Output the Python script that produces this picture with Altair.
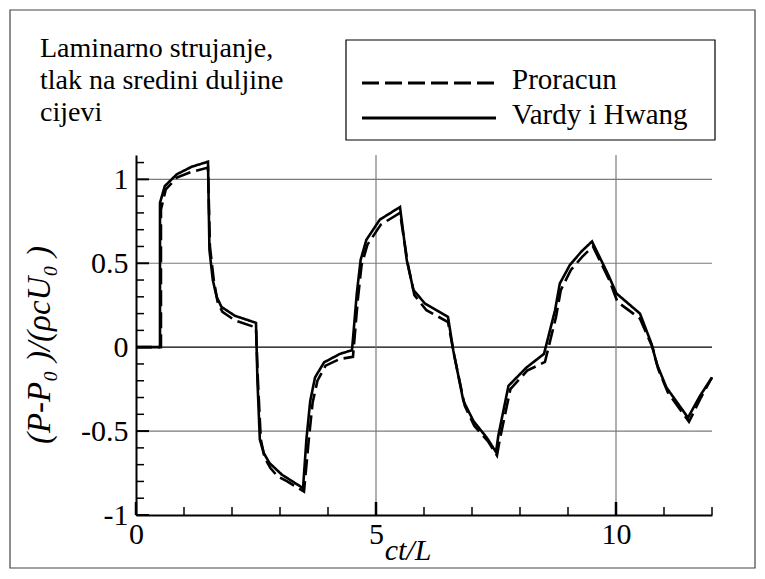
import altair as alt
import pandas as pd

# ---------------- data ----------------
series_names = ["Proracun", "Vardy i Hwang"]

x_proracun = [0, 0.52, 0.52, 0.62, 0.85, 1.16, 1.5, 1.54, 1.62, 1.7, 1.8, 2.06, 2.5,
              2.54, 2.6, 2.68, 2.8, 2.95, 3.15, 3.5, 3.6, 3.68, 3.78, 3.95, 4.25, 4.52,
              4.62, 4.7, 4.82, 5.1, 5.5, 5.66, 5.8, 6.05, 6.5, 6.63, 6.85, 7.05, 7.33,
              7.52, 7.58, 7.8, 8.15, 8.52, 8.75, 8.85, 9.06, 9.3, 9.52, 9.86, 10.03,
              10.5, 10.76, 10.88, 11.08, 11.52, 11.77, 12.0]
y_proracun = [0, 0, 0.82, 0.94, 1.01, 1.045, 1.07, 0.6, 0.4, 0.27, 0.21, 0.16, 0.117,
              -0.2, -0.55, -0.66, -0.72, -0.77, -0.8, -0.86, -0.55, -0.33, -0.2, -0.11,
              -0.07, -0.058, 0.28, 0.49, 0.61, 0.73, 0.8, 0.5, 0.31, 0.22, 0.15, -0.05,
              -0.35, -0.47, -0.56, -0.645, -0.55, -0.25, -0.14, -0.088, 0.18, 0.34,
              0.46, 0.54, 0.6, 0.4, 0.27, 0.17, 0.0, -0.13, -0.27, -0.445, -0.3, -0.18]

x_vardy = [0, 0.5, 0.5, 0.6, 0.85, 1.16, 1.5, 1.53, 1.6, 1.68, 1.78, 2.06, 2.5, 2.53,
           2.58, 2.66, 2.78, 3.04, 3.48, 3.55, 3.63, 3.73, 3.92, 4.25, 4.5, 4.6, 4.68,
           4.8, 5.08, 5.5, 5.64, 5.78, 6.02, 6.5, 6.61, 6.82, 7.03, 7.31, 7.5, 7.55,
           7.76, 8.14, 8.5, 8.73, 8.83, 9.04, 9.28, 9.5, 9.84, 10.01, 10.5, 10.74,
           10.85, 11.05, 11.5, 11.75, 12.0]
y_vardy = [0, 0, 0.86, 0.96, 1.03, 1.075, 1.105, 0.58, 0.4, 0.3, 0.24, 0.187, 0.145,
           -0.2, -0.55, -0.63, -0.69, -0.76, -0.84, -0.55, -0.32, -0.18, -0.09, -0.04,
           -0.018, 0.32, 0.52, 0.64, 0.76, 0.835, 0.52, 0.34, 0.26, 0.18, -0.02, -0.32,
           -0.44, -0.54, -0.625, -0.525, -0.23, -0.12, -0.04, 0.22, 0.38, 0.49, 0.57,
           0.63, 0.43, 0.32, 0.2, 0.02, -0.1, -0.24, -0.42, -0.29, -0.18]

title_lines = ["Laminarno strujanje,", "tlak na sredini duljine", "cijevi"]
x_title = "ct/L"
y_title = "(P-P\u2080 )/(\u03c1cU\u2080 )"

x_major = [0, 5, 10]
x_minor = [1, 2, 3, 4, 6, 7, 8, 9, 11, 12]
y_major = [-1, -0.5, 0, 0.5, 1]
y_minor = [-0.9, -0.8, -0.7, -0.6, -0.4, -0.3, -0.2, -0.1, 0.1, 0.2, 0.3, 0.4,
           0.6, 0.7, 0.8, 0.9, 1.1]
x_grid = [5, 10]
y_grid_gray = [-0.5, 0.5, 1]
y_grid_zero = [0]

# ---------------- layout ----------------
W, H = 576, 360
FONT = "Liberation Serif"
FS = 28
FS_TICK = 30
FS_LEG = 29
FS_YT = 33

rows = []
for name, xs_, ys_ in [(series_names[0], x_proracun, y_proracun),
                       (series_names[1], x_vardy, y_vardy)]:
    for i, (a, b) in enumerate(zip(xs_, ys_)):
        rows.append({"series": name, "x": a, "y": b, "i": i})
df = pd.DataFrame(rows)

xscale = alt.Scale(domain=[0, 12], nice=False, zero=False)
yscale = alt.Scale(domain=[-1, 1.145], nice=False, zero=False)

x_axis = alt.Axis(values=x_major, labelExpr="'' + datum.value", grid=False, ticks=False,
                  domainColor="black", domainWidth=2, labelFont=FONT, labelFontSize=FS_TICK,
                  labelColor="black", labelPadding=4, labelFlush=False,
                  labelOverlap=False, title=None)
y_axis = alt.Axis(values=y_major, labelExpr="'' + datum.value", grid=False, ticks=False,
                  domainColor="black", domainWidth=2, labelFont=FONT, labelFontSize=FS_TICK,
                  labelColor="black", labelPadding=8, labelFlush=False,
                  labelOverlap=False, title=None)


def X(f):
    return alt.X(f, type="quantitative", scale=xscale, axis=x_axis)


def Y(f):
    return alt.Y(f, type="quantitative", scale=yscale, axis=y_axis)


layers = []

# grid lines
layers.append(alt.Chart(pd.DataFrame({"y": y_grid_gray})).mark_rule(
    color="#7a7a7a", strokeWidth=1.2).encode(y=Y("y")))
layers.append(alt.Chart(pd.DataFrame({"y": y_grid_zero})).mark_rule(
    color="black", strokeWidth=1.2).encode(y=Y("y")))
layers.append(alt.Chart(pd.DataFrame({"x": x_grid})).mark_rule(
    color="#7a7a7a", strokeWidth=1.2).encode(x=X("x")))

# inward ticks
layers.append(alt.Chart(pd.DataFrame({"y": y_major})).mark_rule(
    color="black", strokeWidth=2).encode(y=Y("y"), x=alt.value(0), x2=alt.value(13)))
layers.append(alt.Chart(pd.DataFrame({"y": y_minor})).mark_rule(
    color="black", strokeWidth=1.5).encode(y=Y("y"), x=alt.value(0), x2=alt.value(8)))
layers.append(alt.Chart(pd.DataFrame({"x": x_major})).mark_rule(
    color="black", strokeWidth=2.5).encode(x=X("x"), y=alt.value(H), y2=alt.value(H - 13)))
layers.append(alt.Chart(pd.DataFrame({"x": x_minor})).mark_rule(
    color="black", strokeWidth=1.5).encode(x=X("x"), y=alt.value(H), y2=alt.value(H - 8)))

# curves
layers.append(alt.Chart(df).mark_line(color="black", strokeWidth=2.6).encode(
    x=X("x"), y=Y("y"),
    strokeDash=alt.StrokeDash("series:N", scale=alt.Scale(domain=series_names,
                                                          range=[[16, 6], [1, 0]]),
                              legend=None),
    order="i:Q"))

# outer frame
layers.append(alt.Chart(pd.DataFrame({"a": [0]})).mark_rect(
    filled=False, stroke="#444444", strokeWidth=1.2).encode(
    x=alt.value(-126), x2=alt.value(619), y=alt.value(-145), y2=alt.value(413)))

# title text block
for k, line in enumerate(title_lines):
    layers.append(alt.Chart(pd.DataFrame({"t": [line]})).mark_text(
        font=FONT, fontSize=FS, align="left", baseline="alphabetic", color="black").encode(
        text="t:N", x=alt.value(-96), y=alt.value(-98 + 32 * k)))

# legend box
layers.append(alt.Chart(pd.DataFrame({"a": [0]})).mark_rect(
    filled=False, stroke="black", strokeWidth=1.2).encode(
    x=alt.value(210), x2=alt.value(579), y=alt.value(-115), y2=alt.value(-15)))
legend_y = [-72, -37]
legend_dash = [[17, 6], [1, 0]]
for k, name in enumerate(series_names):
    layers.append(alt.Chart(pd.DataFrame({"a": [0]})).mark_rule(
        color="black", strokeWidth=3, strokeDash=legend_dash[k]).encode(
        x=alt.value(226), x2=alt.value(360), y=alt.value(legend_y[k])))
    layers.append(alt.Chart(pd.DataFrame({"t": [name]})).mark_text(
        font=FONT, fontSize=FS_LEG, align="left", baseline="middle", color="black").encode(
        text="t:N", x=alt.value(376), y=alt.value(legend_y[k] - 3)))

# axis titles
layers.append(alt.Chart(pd.DataFrame({"t": [x_title]})).mark_text(
    font=FONT, fontSize=FS_TICK, fontStyle="italic", align="center", baseline="alphabetic",
    color="black").encode(text="t:N", x=alt.value(272), y=alt.value(405)))
layers.append(alt.Chart(pd.DataFrame({"t": [y_title]})).mark_text(
    font=FONT, fontSize=FS_YT, fontStyle="italic", align="center", baseline="middle",
    angle=270, color="black").encode(text="t:N", x=alt.value(-96), y=alt.value(190)))

chart = alt.layer(*layers).properties(
    width=W, height=H,
    autosize=alt.AutoSizeParams(type="none"),
    padding={"left": 128, "top": 147, "right": 45, "bottom": 56},
).configure_view(stroke=None)

chart.save("out.html", embed_options={"renderer": "svg", "actions": False})
